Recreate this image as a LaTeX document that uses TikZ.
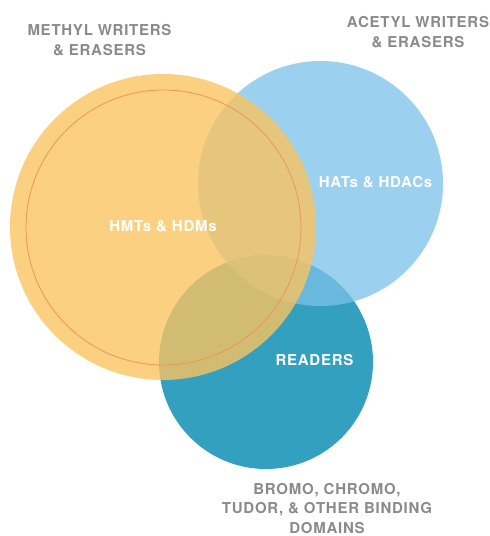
\documentclass[tikz,border=0pt]{standalone}
\usepackage{fontspec}
\setmainfont{TeX Gyre Heros}
\newfontfamily\vennfont[LetterSpace=5]{TeX Gyre Heros}
\usetikzlibrary{positioning}
\definecolor{methylorange}{RGB}{250,196,96}
\definecolor{ringorange}{RGB}{236,150,88}
\definecolor{acetylblue}{RGB}{122,194,232}
\definecolor{readerteal}{RGB}{51,160,192}
\definecolor{labelgray}{RGB}{138,138,138}
\tikzset{
  outerlabel/.style={font=\vennfont\bfseries\fontsize{15}{19.5}\selectfont,text=labelgray,align=center,inner sep=1pt},
  innerlabel/.style={font=\vennfont\bfseries\fontsize{15}{20}\selectfont,text=white,align=center}
}

\begin{document}
\begin{tikzpicture}[x=1pt,y=1pt]
\useasboundingbox (0,0) rectangle (490,536);
\fill[readerteal] (266,174) circle (107);
\fill[acetylblue,opacity=0.75] (320.5,352.5) circle (122.5);
\fill[methylorange,opacity=0.8] (163,309) circle (153);
\draw[ringorange,line width=0.8pt] (163.5,308.5) circle (137.5);

\node[outerlabel] (methyl) at (99.5,496) {METHYL WRITERS\\\& ERASERS};
\node[outerlabel] (acetyl) at (418,504) {ACETYL WRITERS\\\& ERASERS};
\node[outerlabel] (domains) at (327,27.5) {BROMO, CHROMO,\\TUDOR, \& OTHER BINDING\\DOMAINS};

\node[innerlabel] (hmt) at (163,310) {HMTs \& HDMs};
\node[innerlabel] (hat) at (375.5,354) {HATs \& HDACs};
\node[innerlabel] (readers) at (314.5,175.5) {READERS};
\end{tikzpicture}
\end{document}
